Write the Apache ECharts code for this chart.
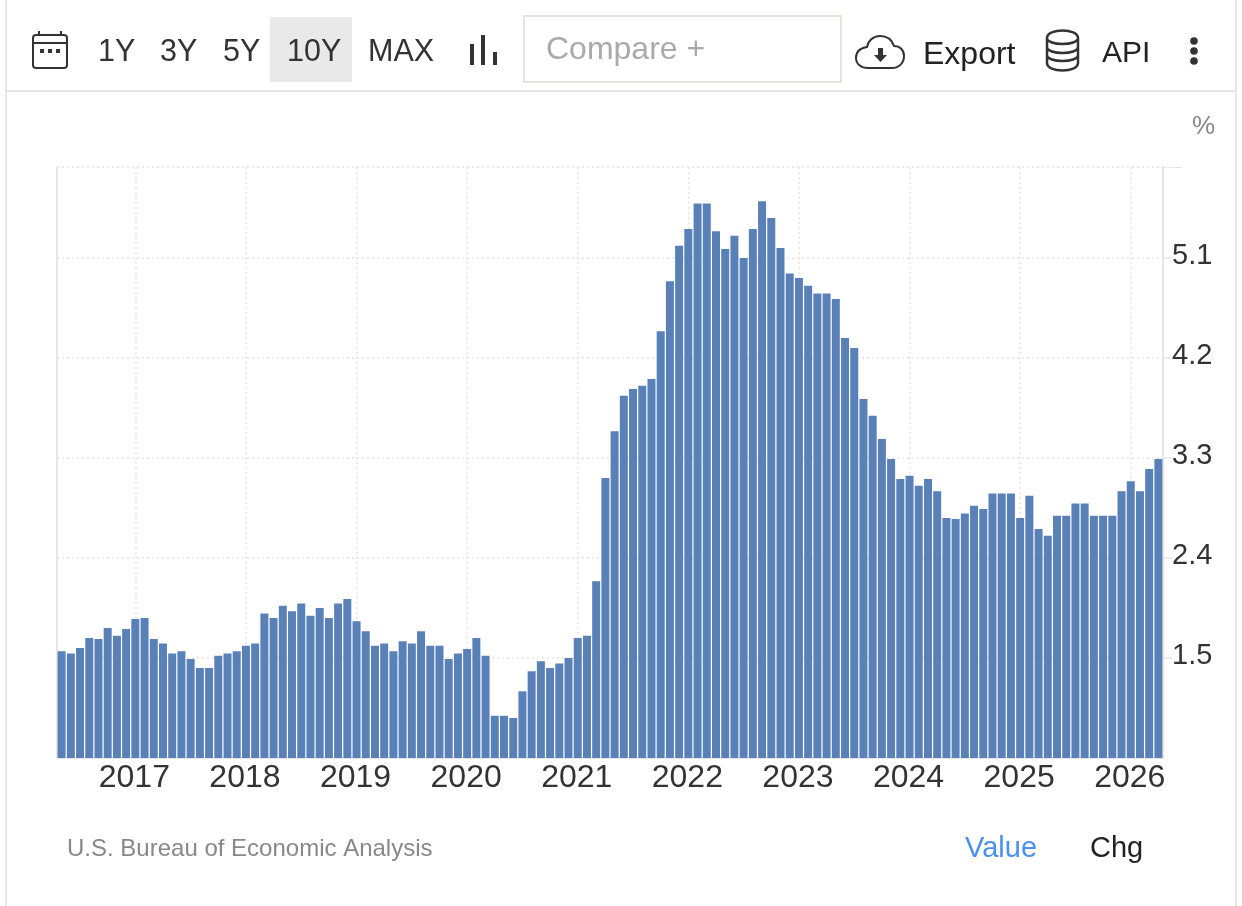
<!DOCTYPE html>
<html><head><meta charset="utf-8">
<style>html,body{margin:0;padding:0;background:#fff}#c{width:1242px;height:906px}</style>
<script src="https://cdn.jsdelivr.net/npm/echarts@6/dist/echarts.min.js"></script>
</head><body><div id="c"></div>
<script>
const months = [
'2016-05','2016-06','2016-07','2016-08','2016-09','2016-10','2016-11','2016-12',
'2017-01','2017-02','2017-03','2017-04','2017-05','2017-06','2017-07','2017-08','2017-09','2017-10','2017-11','2017-12',
'2018-01','2018-02','2018-03','2018-04','2018-05','2018-06','2018-07','2018-08','2018-09','2018-10','2018-11','2018-12',
'2019-01','2019-02','2019-03','2019-04','2019-05','2019-06','2019-07','2019-08','2019-09','2019-10','2019-11','2019-12',
'2020-01','2020-02','2020-03','2020-04','2020-05','2020-06','2020-07','2020-08','2020-09','2020-10','2020-11','2020-12',
'2021-01','2021-02','2021-03','2021-04','2021-05','2021-06','2021-07','2021-08','2021-09','2021-10','2021-11','2021-12',
'2022-01','2022-02','2022-03','2022-04','2022-05','2022-06','2022-07','2022-08','2022-09','2022-10','2022-11','2022-12',
'2023-01','2023-02','2023-03','2023-04','2023-05','2023-06','2023-07','2023-08','2023-09','2023-10','2023-11','2023-12',
'2024-01','2024-02','2024-03','2024-04','2024-05','2024-06','2024-07','2024-08','2024-09','2024-10','2024-11','2024-12',
'2025-01','2025-02','2025-03','2025-04','2025-05','2025-06','2025-07','2025-08','2025-09','2025-10','2025-11','2025-12',
'2026-01','2026-02','2026-03','2026-04'];
const values = [
1.56,1.54,1.59,1.68,1.67,1.77,1.70,1.76,
1.85,1.86,1.67,1.63,1.54,1.56,1.49,1.41,1.41,1.52,1.54,1.56,
1.61,1.63,1.90,1.86,1.97,1.92,1.99,1.88,1.95,1.86,1.99,2.03,
1.83,1.74,1.61,1.63,1.56,1.65,1.63,1.74,1.61,1.61,1.49,1.54,
1.58,1.68,1.52,0.98,0.98,0.96,1.20,1.38,1.47,1.41,1.45,1.50,
1.68,1.70,2.19,3.12,3.54,3.86,3.92,3.95,4.01,4.44,4.89,5.21,
5.36,5.59,5.59,5.34,5.18,5.30,5.10,5.36,5.61,5.46,5.19,4.96,
4.92,4.85,4.78,4.78,4.73,4.38,4.29,3.83,3.68,3.47,3.29,3.11,
3.14,3.05,3.11,3.00,2.76,2.75,2.80,2.87,2.84,2.98,2.98,2.98,
2.76,2.96,2.66,2.60,2.78,2.78,2.89,2.89,2.78,2.78,2.78,3.00,
3.09,3.00,3.20,3.29];
const rangeButtons = ['1Y','3Y','5Y','10Y','MAX'];
const rangeX = [98,160,223,287,368];
const yMin = 0.6, yMax = 5.919, yStep = 0.9;

const FONT = '"Liberation Sans", Arial, sans-serif';
const INK = '#333333', FRAME = '#e6e6e6', BAR = '#5a80b8', GRID = '#e4e4e4';
const txt = (x, y, text, size, fill) => ({type:'text', x, y, silent:true,
  style:{text, font:`${size}px ${FONT}`, fill, verticalAlign:'middle'}});
const line = (x1,y1,x2,y2,stroke,lineWidth) => ({type:'line', silent:true, shape:{x1,y1,x2,y2}, style:{stroke,lineWidth}});
const rect = (x,y,width,height,style,r) => ({type:'rect', silent:true, shape:{x,y,width,height,r:r||0}, style});
const dot = (cx,cy,r,fill) => ({type:'circle', silent:true, shape:{cx,cy,r}, style:{fill}});
echarts.graphic.registerShape('cloudIcon', echarts.graphic.extendPath('M868 68 H892 C899 68 904 63 904 56 C904 50 900 46 894 46 C892 40 887 36 880 36 C873 36 868 41 867 47 C860 48 856 52 856 58 C856 64 861 68 868 68 Z'));
echarts.graphic.registerShape('dbIcon', echarts.graphic.extendPath('M1047 38 C1047 28 1078 28 1078 38 V63 C1078 73 1047 73 1047 63 Z M1047 38 C1047 46 1078 46 1078 38 M1047 47 C1047 55 1078 55 1078 47 M1047 55 C1047 63 1078 63 1078 55'));

const graphics = [
  line(6,0,6,906,FRAME,2), line(1236,0,1236,906,FRAME,2), line(6,91,1236,91,FRAME,2),
  line(57,167,57,758,FRAME,2),
  rect(270,17,82,65,{fill:'#e9e9e9'}),
  // calendar
  line(33,43,67,43,INK,2),
  rect(33,35,34,33,{fill:'none',stroke:INK,lineWidth:2},3),
  line(39,31,39,35,INK,2), line(61,31,61,35,INK,2),
  rect(40,49,4,4,{fill:INK}), rect(48,49,4,4,{fill:INK}), rect(56,49,4,4,{fill:INK}),
  // bars icon
  rect(470,44,4,21,{fill:INK}), rect(481,35,4,30,{fill:INK}), rect(493,52,4,13,{fill:INK}),
  // compare box
  rect(524,16,317,66,{fill:'#fff',stroke:'#e4e4da',lineWidth:2}),
  txt(546,50,'Compare +',32,'#aaaaaa'),
  // cloud
  {type:'cloudIcon', silent:true, shape:{}, style:{fill:'none',stroke:INK,lineWidth:2}},
  rect(878,48,5,8,{fill:INK}),
  {type:'polygon', silent:true, shape:{points:[[874,55],[887,55],[880.5,62]]}, style:{fill:INK}},
  txt(923,55,'Export',32,'#222222'),
  // database
  {type:'dbIcon', silent:true, shape:{}, style:{fill:'none',stroke:INK,lineWidth:2.5}},
  txt(1102,54,'API',30,'#222222'),
  dot(1194,41,3.8,INK), dot(1194,51,3.8,INK), dot(1194,61,3.8,INK),
  // unit, source, tabs
  txt(1192,127,'%',26,'#888888'),
  line(1163,167.5,1182,167.5,FRAME,1),
  txt(67,849,'U.S. Bureau of Economic Analysis',24,'#888888'),
  txt(965,849,'Value',29,'#4a90f0'),
  txt(1090,849,'Chg',29,'#222222')
];
rangeButtons.forEach((t,i)=>graphics.push(txt(rangeX[i],53,t,30.5,INK)));

const chart = echarts.init(document.getElementById('c'), null, {width:1242,height:906});
chart.setOption({
  animation:false,
  backgroundColor:'#ffffff',
  textStyle:{fontFamily:FONT},
  grid:{left:57,top:167,width:1106,height:591,containLabel:false},
  xAxis:{
    type:'category', data:months, boundaryGap:true,
    axisLine:{show:true,onZero:false,lineStyle:{color:FRAME,width:2}},
    axisTick:{show:false},
    axisLabel:{
      interval:(i,v)=>v.endsWith('-01'), formatter:v=>v.slice(0,4),
      fontSize:32, color:INK, fontFamily:FONT, margin:4, hideOverlap:false, padding:[0,2,0,0]
    },
    splitLine:{show:true, alignWithLabel:true, interval:(i,v)=>v.endsWith('-01'), lineStyle:{color:GRID,type:[2,3],width:1.5}}
  },
  yAxis:{
    type:'value', position:'right', min:yMin, max:yMax, interval:yStep,
    axisLine:{show:true,lineStyle:{color:FRAME,width:2}},
    axisTick:{show:true,length:9,lineStyle:{color:FRAME,width:1.5}},
    axisLabel:{
      fontSize:29, color:INK, fontFamily:FONT, margin:9, align:'left',
      verticalAlign:'bottom', lineHeight:5, showMinLabel:false, showMaxLabel:false,
      formatter:v=>v.toFixed(1)
    },
    splitLine:{show:true,lineStyle:{color:GRID,type:[2,3],width:1.5}}
  },
  series:[{type:'bar', data:values, barWidth:8, itemStyle:{color:BAR}, silent:true, z:3}],
  graphic:{elements:graphics}
});
</script></body></html>
